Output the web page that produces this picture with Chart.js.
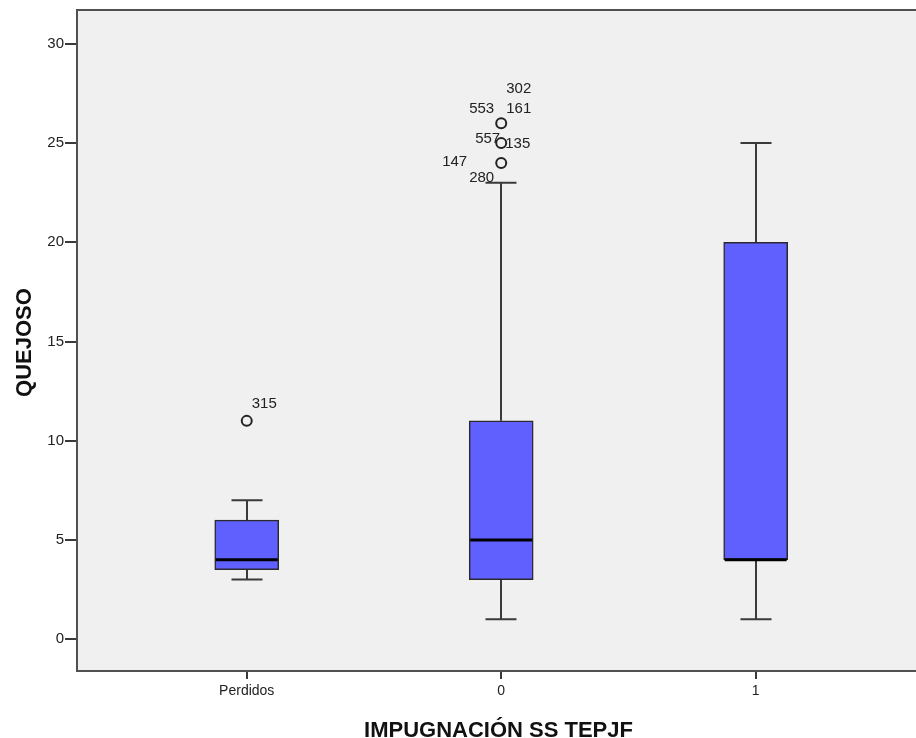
<!DOCTYPE html>
<html>
<head>
<meta charset="utf-8">
<script src="https://cdn.jsdelivr.net/npm/chart.js@4"></script>
<style>
html,body{margin:0;padding:0;background:#fff;}
#wrap{width:916px;height:738px;}
</style>
</head>
<body>
<div id="wrap"><canvas id="c" width="916" height="738"></canvas></div>
<script>
// ---- data ----
const categories = ['Perdidos', '0', '1'];
const whiskerLow = [3, 1, 1];
const q1 = [3.5, 3, 4];
const median = [4, 5, 4];
const q3 = [6, 11, 20];
const whiskerHigh = [7, 23, 25];
const outlierCat = [0, 1, 1, 1];
const outlierVal = [11, 26, 25, 24];
const outlierIds = [['315'], ['553', '161', '302'], ['557', '135'], ['147', '280']];
const yTicks = [0, 5, 10, 15, 20, 25, 30];
const xTitle = 'IMPUGNACIÓN SS TEPJF';
const yTitle = 'QUEJOSO';

// ---- label placement (style, px offsets from circle centre) ----
const idPlacement = [
  [{dx: 5, dy: -17, align: 'left'}],
  [{dx: -7, dy: -14, align: 'right'}, {dx: 5, dy: -14, align: 'left'}, {dx: 5, dy: -34, align: 'left'}],
  [{dx: -1, dy: -4, align: 'right'}, {dx: 4, dy: 1, align: 'left'}],
  [{dx: -34, dy: -1, align: 'right'}, {dx: -7, dy: 15, align: 'right'}]
];

const BOX_W = 64, CAP_W = 31;
const FONT = '"Liberation Sans", Arial, sans-serif';

const boxPlugin = {
  id: 'boxPlugin',
  beforeDraw(chart) {
    const {ctx, chartArea: a} = chart;
    ctx.save();
    ctx.fillStyle = '#f0f0f0';
    ctx.fillRect(a.left, a.top, a.right - a.left, a.bottom - a.top);
    ctx.restore();
  },
  beforeDatasetsDraw(chart) {
    const {ctx, scales: {x, y}} = chart;
    ctx.save();
    ctx.strokeStyle = '#3a3a3a';
    ctx.lineWidth = 2;
    categories.forEach((c, i) => {
      const px = Math.round(x.getPixelForValue(i));
      const yl = y.getPixelForValue(whiskerLow[i]);
      const yh = y.getPixelForValue(whiskerHigh[i]);
      const y1 = y.getPixelForValue(q1[i]);
      const y3 = y.getPixelForValue(q3[i]);
      ctx.beginPath();
      ctx.moveTo(px, yl); ctx.lineTo(px, y1);
      ctx.moveTo(px, y3); ctx.lineTo(px, yh);
      ctx.moveTo(px - CAP_W / 2, yl); ctx.lineTo(px + CAP_W / 2, yl);
      ctx.moveTo(px - CAP_W / 2, yh); ctx.lineTo(px + CAP_W / 2, yh);
      ctx.stroke();
    });
    ctx.restore();
  },
  afterDatasetsDraw(chart) {
    const {ctx, scales: {x, y}, chartArea: a} = chart;
    ctx.save();
    // medians
    ctx.strokeStyle = '#000';
    ctx.lineWidth = 3;
    categories.forEach((c, i) => {
      const px = x.getPixelForValue(i);
      const ym = y.getPixelForValue(median[i]);
      ctx.beginPath();
      ctx.moveTo(px - BOX_W / 2 + 1, ym); ctx.lineTo(px + BOX_W / 2 - 1, ym);
      ctx.stroke();
    });
    // outlier ids
    ctx.fillStyle = '#222';
    ctx.font = '15px ' + FONT;
    ctx.textBaseline = 'middle';
    outlierVal.forEach((v, k) => {
      const cx = x.getPixelForValue(outlierCat[k]);
      const cy = y.getPixelForValue(v);
      outlierIds[k].forEach((id, j) => {
        const p = idPlacement[k][j];
        ctx.textAlign = p.align;
        ctx.fillText(id, cx + p.dx, cy + p.dy);
      });
    });
    // frame
    ctx.strokeStyle = '#505050';
    ctx.lineWidth = 2;
    ctx.strokeRect(a.left, a.top, a.right - a.left + 10, a.bottom - a.top);
    ctx.restore();
  },
  afterDraw(chart) {
    const {ctx, chartArea: a} = chart;
    ctx.save();
    ctx.fillStyle = '#111';
    ctx.font = 'bold 22px ' + FONT;
    ctx.textAlign = 'center';
    ctx.textBaseline = 'alphabetic';
    ctx.fillText(xTitle, (a.left + 916) / 2 + 2, 737);
    ctx.translate(31, (a.top + a.bottom) / 2 + 2);
    ctx.rotate(-Math.PI / 2);
    ctx.fillText(yTitle, 0, 0);
    ctx.restore();
  }
};

const boxData = categories.map((c, i) => ({x: i, y: [q1[i], q3[i]]}));
const outData = outlierVal.map((v, k) => ({x: outlierCat[k], y: v}));

new Chart(document.getElementById('c'), {
  type: 'bar',
  data: {
    datasets: [
      {
        type: 'bar',
        data: boxData,
        backgroundColor: '#6060ff',
        borderColor: '#2a2a2a',
        borderWidth: 1.5,
        borderSkipped: false,
        barThickness: BOX_W,
        order: 2
      },
      {
        type: 'scatter',
        data: outData,
        pointStyle: 'circle',
        pointRadius: 5,
        pointBorderWidth: 2,
        borderColor: '#222',
        backgroundColor: 'rgba(0,0,0,0)',
        order: 1
      }
    ]
  },
  options: {
    responsive: false,
    animation: false,
    layout: {autoPadding: false, padding: {top: 8, right: 0, left: 0, bottom: 0}},
    plugins: {legend: {display: false}, tooltip: {enabled: false}},
    scales: {
      x: {
        type: 'linear',
        min: -0.667,
        max: 2.63,
        offset: false,
        afterBuildTicks(s) { s.ticks = categories.map((c, i) => ({value: i})); },
        afterFit(s) { s.height = 67; },
        ticks: {
          callback: (v) => categories[v],
          color: '#222',
          font: {family: FONT, size: 14},
          padding: 4,
          maxRotation: 0,
          autoSkip: false
        },
        grid: {drawOnChartArea: false, offset: false, drawTicks: true, tickLength: 8, color: '#3a3a3a', lineWidth: 2},
        border: {display: false},
        title: {display: false}
      },
      y: {
        type: 'linear',
        min: -1.608,
        max: 31.71,
        afterBuildTicks(s) { s.ticks = yTicks.map(v => ({value: v})); },
        afterFit(s) { s.width = 77; },
        ticks: {
          color: '#222',
          font: {family: FONT, size: 15},
          padding: 1
        },
        grid: {drawOnChartArea: false, drawTicks: true, tickLength: 12, color: '#3a3a3a', lineWidth: 2},
        border: {display: false},
        title: {display: false}
      }
    }
  },
  plugins: [boxPlugin]
});
</script>
</body>
</html>
